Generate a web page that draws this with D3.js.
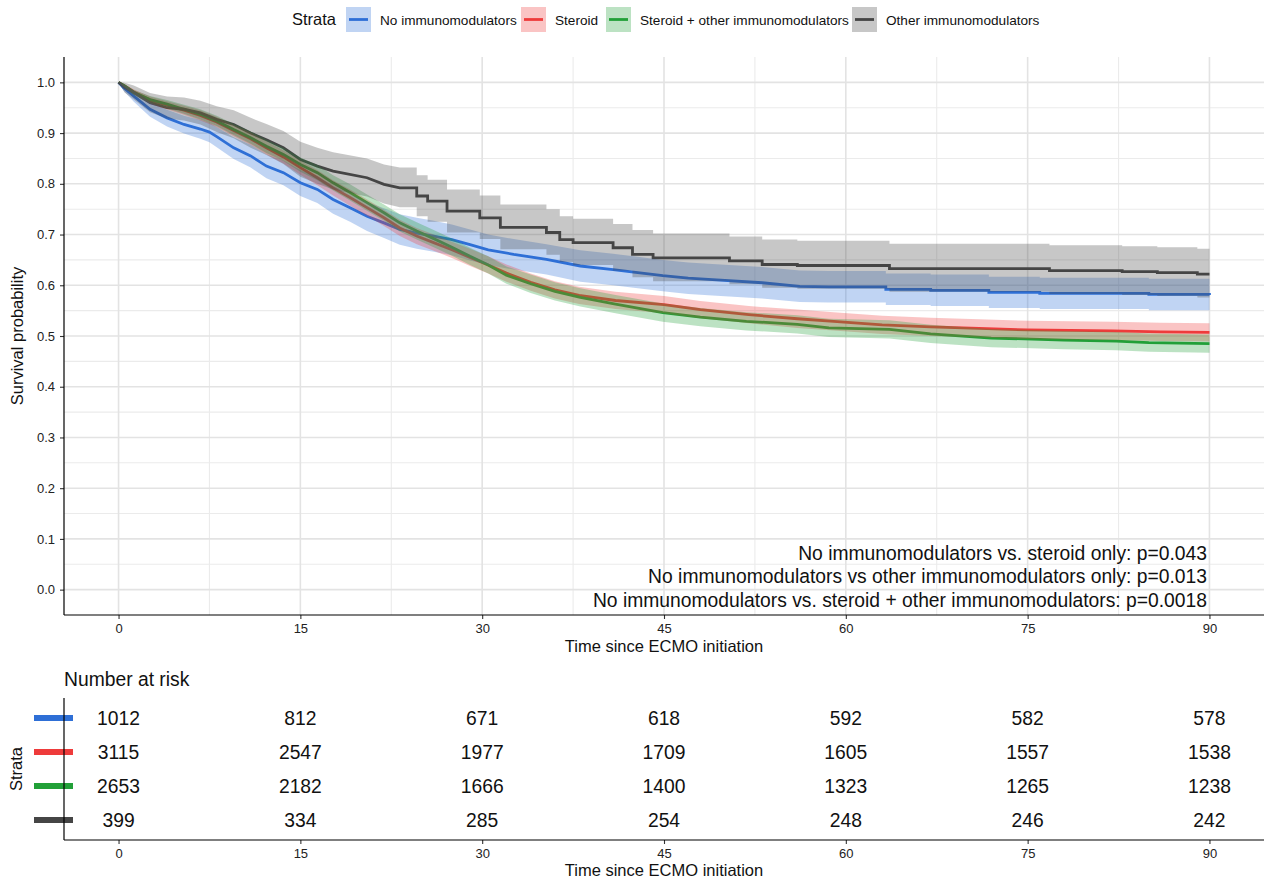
<!DOCTYPE html>
<html><head><meta charset="utf-8">
<script src="https://cdn.jsdelivr.net/npm/d3@7"></script>
<style>
html,body{margin:0;padding:0;background:#fff;}
svg{display:block;font-family:"Liberation Sans",Arial,Helvetica,sans-serif;}
</style></head>
<body>
<svg id="chart" width="1264" height="880"></svg>
<script>
// ---------------- data ----------------
const strata = ["No immunomodulators", "Steroid", "Steroid + other immunomodulators", "Other immunomodulators"];
const colors = ["#2E6FD6", "#EE3B3B", "#22A038", "#454545"];

const noneT  = [0,0.4,1.26,2.6,4.0,5.4,6.75,7.5,8.1,9.5,10.9,12.2,13.6,15,16.4,17.7,19.1,20.5,21.9,23.2,24.6,26,27.5,29,30.5,32.6,35.3,38.1,40.8,42.5,44.9,47,49,53.1,56.2,58.6,63.3,67,71.8,76,80,85,90];
const noneS  = [1,0.99,0.973,0.947,0.930,0.917,0.908,0.902,0.893,0.871,0.855,0.835,0.822,0.802,0.789,0.769,0.753,0.736,0.723,0.710,0.703,0.697,0.690,0.680,0.670,0.661,0.651,0.638,0.631,0.626,0.619,0.614,0.611,0.605,0.598,0.597,0.592,0.590,0.586,0.584,0.584,0.582,0.581];
const noneLo = [1,0.984,0.962,0.932,0.913,0.899,0.889,0.882,0.872,0.849,0.832,0.811,0.797,0.776,0.762,0.741,0.725,0.707,0.693,0.680,0.672,0.666,0.659,0.649,0.640,0.631,0.621,0.607,0.600,0.595,0.588,0.583,0.580,0.574,0.567,0.566,0.561,0.559,0.555,0.553,0.553,0.551,0.550];
const noneHi = [1,0.996,0.983,0.961,0.946,0.934,0.926,0.920,0.912,0.892,0.877,0.858,0.846,0.827,0.815,0.796,0.780,0.764,0.752,0.740,0.733,0.727,0.720,0.710,0.700,0.691,0.681,0.669,0.662,0.657,0.650,0.645,0.642,0.636,0.629,0.628,0.623,0.621,0.617,0.615,0.615,0.613,0.612];

const sterT  = [0,0.5,1.26,2.6,4,5.4,6.75,8.1,9.5,10.9,12.2,13.6,15,16.4,17.7,19.1,20.5,21.9,23.2,24.6,26,27.5,29,30.5,32,34,36,38,41,45,48,52,56,59,63,67,71,75,82,86,90];
const sterS  = [1,0.993,0.981,0.965,0.955,0.945,0.935,0.922,0.905,0.889,0.871,0.853,0.832,0.812,0.792,0.773,0.753,0.733,0.713,0.697,0.684,0.670,0.655,0.640,0.624,0.606,0.591,0.580,0.570,0.562,0.552,0.542,0.534,0.529,0.522,0.518,0.515,0.512,0.510,0.508,0.507];
const sterLo = [1,0.990,0.976,0.958,0.947,0.936,0.925,0.912,0.894,0.877,0.858,0.840,0.818,0.797,0.777,0.757,0.737,0.717,0.697,0.681,0.668,0.654,0.638,0.623,0.607,0.589,0.574,0.563,0.553,0.545,0.535,0.525,0.516,0.511,0.504,0.500,0.497,0.494,0.492,0.490,0.489];
const sterHi = [1,0.996,0.986,0.972,0.963,0.954,0.945,0.932,0.916,0.901,0.884,0.866,0.846,0.827,0.807,0.789,0.769,0.749,0.729,0.713,0.700,0.686,0.672,0.657,0.641,0.623,0.608,0.597,0.587,0.579,0.569,0.559,0.552,0.547,0.540,0.536,0.533,0.530,0.528,0.526,0.525];

const bothT  = [0,0.5,1.26,2.6,4,5.4,6.75,8.1,9.5,10.9,12.2,13.6,15,16.4,17.7,19.1,20.5,21.9,23.2,24.6,26,27.5,29,30.5,32,34,36,38.1,41,44.9,48,51.8,56,58.6,63.6,67,72,78,82.3,85,90];
const bothS  = [1,0.993,0.980,0.966,0.957,0.947,0.937,0.924,0.907,0.891,0.874,0.858,0.838,0.822,0.802,0.783,0.763,0.743,0.723,0.707,0.692,0.675,0.657,0.640,0.620,0.603,0.588,0.576,0.563,0.546,0.537,0.529,0.523,0.516,0.513,0.504,0.496,0.492,0.490,0.487,0.485];
const bothLo = [1,0.990,0.975,0.959,0.949,0.938,0.927,0.914,0.896,0.879,0.861,0.845,0.824,0.807,0.787,0.767,0.747,0.727,0.706,0.690,0.675,0.658,0.640,0.623,0.603,0.585,0.570,0.558,0.545,0.528,0.519,0.511,0.505,0.498,0.495,0.486,0.478,0.474,0.472,0.469,0.467];
const bothHi = [1,0.996,0.985,0.973,0.965,0.956,0.947,0.934,0.918,0.903,0.887,0.871,0.852,0.837,0.817,0.799,0.779,0.759,0.740,0.724,0.709,0.692,0.674,0.657,0.637,0.621,0.606,0.594,0.581,0.564,0.555,0.547,0.541,0.534,0.531,0.522,0.514,0.510,0.508,0.505,0.503];

const otherT  = [0,0.5,1.26,2.6,4,5.4,6.75,8.1,9.5,10.9,12.2,13.6,15,16.4,17.7,20.5,21.9,23.2,24.6,25.5,27.1,29.8,31.5,35.3,36.4,37.5,40.8,42.4,44.1,47.9,50.4,53.1,56,63.6,76.8,82.8,85.7,89,90];
const otherS  = [1,0.99,0.980,0.960,0.950,0.947,0.940,0.927,0.917,0.900,0.887,0.871,0.848,0.835,0.825,0.812,0.799,0.792,0.776,0.766,0.746,0.733,0.714,0.704,0.690,0.684,0.674,0.661,0.654,0.654,0.648,0.641,0.639,0.633,0.629,0.627,0.625,0.622,0.622];
const otherLo = [1,0.980,0.966,0.941,0.929,0.925,0.917,0.902,0.890,0.871,0.857,0.839,0.814,0.800,0.789,0.775,0.761,0.754,0.736,0.725,0.704,0.691,0.671,0.660,0.646,0.640,0.629,0.616,0.608,0.608,0.602,0.595,0.593,0.587,0.583,0.581,0.579,0.576,0.576];
const otherHi = [1,0.999,0.994,0.979,0.972,0.970,0.964,0.953,0.945,0.930,0.918,0.904,0.883,0.871,0.862,0.850,0.838,0.832,0.817,0.808,0.789,0.777,0.759,0.750,0.736,0.731,0.721,0.709,0.702,0.702,0.696,0.690,0.688,0.682,0.679,0.677,0.675,0.672,0.672];

const xTicks = [0, 15, 30, 45, 60, 75, 90];
const yTicks = [0.0, 0.1, 0.2, 0.3, 0.4, 0.5, 0.6, 0.7, 0.8, 0.9, 1.0];
const riskNone  = [1012, 812, 671, 618, 592, 582, 578];
const riskSter  = [3115, 2547, 1977, 1709, 1605, 1557, 1538];
const riskBoth  = [2653, 2182, 1666, 1400, 1323, 1265, 1238];
const riskOther = [399, 334, 285, 254, 248, 246, 242];
const pvalTexts = [
  "No immunomodulators vs. steroid only: p=0.043",
  "No immunomodulators vs other immunomodulators only: p=0.013",
  "No immunomodulators vs. steroid + other immunomodulators: p=0.0018"
];

// ---------------- build ----------------
// dense tiny steps are approximated by straight segments; larger steps drawn as steps
const linearUntil = [60, 90, 90, 24];
const series = [
  {t: noneT, s: noneS, lo: noneLo, hi: noneHi},
  {t: sterT, s: sterS, lo: sterLo, hi: sterHi},
  {t: bothT, s: bothS, lo: bothLo, hi: bothHi},
  {t: otherT, s: otherS, lo: otherLo, hi: otherHi}
].map((d, i) => {
  const pts = d.t.map((t, j) => ({t, s: d.s[j], lo: d.lo[j], hi: d.hi[j]}));
  const path = [];
  pts.forEach((p, j) => {
    if (j > 0 && p.t > linearUntil[i]) {
      const q = pts[j - 1];
      path.push({t: p.t, s: q.s, lo: q.lo, hi: q.hi});
    }
    path.push(p);
  });
  return {name: strata[i], color: colors[i], path};
});
const risk = [riskNone, riskSter, riskBoth, riskOther];

const svg = d3.select("#chart");
const L = 64, R = 1264, T = 57, B = 615;
const x = d3.scaleLinear().domain([-4.5, 94.5]).range([L, R]);
const y = d3.scaleLinear().domain([-0.05, 1.05]).range([B, T]);

// grid
const grid = svg.append("g");
const minorX = d3.range(7.5, 90, 15);
const minorY = d3.range(0.05, 1.0, 0.1);
grid.selectAll(".mx").data(minorX).join("line")
  .attr("x1", d => x(d)).attr("x2", d => x(d)).attr("y1", T).attr("y2", B)
  .attr("stroke", "#EBEBEB").attr("stroke-width", 1.1);
grid.selectAll(".my").data(minorY).join("line")
  .attr("y1", d => y(d)).attr("y2", d => y(d)).attr("x1", L).attr("x2", R)
  .attr("stroke", "#EBEBEB").attr("stroke-width", 1.1);
grid.selectAll(".Mx").data(xTicks).join("line")
  .attr("x1", d => x(d)).attr("x2", d => x(d)).attr("y1", T).attr("y2", B)
  .attr("stroke", "#E3E3E3").attr("stroke-width", 1.6);
grid.selectAll(".My").data(yTicks).join("line")
  .attr("y1", d => y(d)).attr("y2", d => y(d)).attr("x1", L).attr("x2", R)
  .attr("stroke", "#E3E3E3").attr("stroke-width", 1.6);

// lines first, ribbons on top (as in ggsurvplot)
const line = d3.line().x(d => x(d.t)).y(d => y(d.s));
const area = d3.area().x(d => x(d.t)).y0(d => y(d.lo)).y1(d => y(d.hi));
const plot = svg.append("g");
series.forEach(sr => {
  plot.append("path").datum(sr.path).attr("d", line)
    .attr("fill", "none").attr("stroke", sr.color).attr("stroke-width", 2.8)
    .attr("stroke-linejoin", "miter");
});
series.forEach(sr => {
  plot.append("path").datum(sr.path).attr("d", area)
    .attr("fill", sr.color).attr("fill-opacity", 0.3).attr("stroke", "none");
});

// axes
const axX = d3.axisBottom(x).tickValues(xTicks).tickSize(4).tickPadding(5).tickFormat(d3.format("d"));
const gx = svg.append("g").attr("transform", `translate(0,${B})`).call(axX);
const axY = d3.axisLeft(y).tickValues(yTicks).tickSize(4).tickPadding(5).tickFormat(d3.format(".1f"));
const gy = svg.append("g").attr("transform", `translate(${L},0)`).call(axY);
[gx, gy].forEach(g => {
  g.select(".domain").remove();
  g.selectAll(".tick line").attr("stroke", "#333").attr("stroke-width", 1.1);
  g.selectAll(".tick text").attr("fill", "#222").style("font-size", "13px")
    .style("font-family", "'Liberation Sans',Arial,sans-serif");
});
svg.append("line").attr("x1", L).attr("x2", R).attr("y1", B).attr("y2", B).attr("stroke", "#000").attr("stroke-width", 1.2);
svg.append("line").attr("x1", L).attr("x2", L).attr("y1", T).attr("y2", B).attr("stroke", "#000").attr("stroke-width", 1.2);

svg.append("text").attr("x", (L + R) / 2).attr("y", 652).attr("text-anchor", "middle")
  .style("font-size", "16.5px").attr("fill", "#111").text("Time since ECMO initiation");
svg.append("text").attr("transform", `translate(23,${(T + B) / 2}) rotate(-90)`).attr("text-anchor", "middle")
  .style("font-size", "16.5px").attr("fill", "#111").text("Survival probability");

// p-values
svg.selectAll(".pv").data(pvalTexts).join("text")
  .attr("x", 1207).attr("y", (d, i) => 559.5 + i * 23.5).attr("text-anchor", "end")
  .style("font-size", "19.3px").attr("fill", "#111").text(d => d);

// legend
const lg = svg.append("g");
lg.append("text").attr("x", 292).attr("y", 25).style("font-size", "16.5px").attr("fill", "#111").text("Strata");
const legX = [346, 521, 606, 852];
strata.forEach((s, i) => {
  const g = lg.append("g").attr("transform", `translate(${legX[i]},7)`);
  g.append("rect").attr("width", 25).attr("height", 25).attr("fill", colors[i]).attr("fill-opacity", 0.3);
  g.append("line").attr("x1", 3).attr("x2", 22).attr("y1", 12.5).attr("y2", 12.5)
    .attr("stroke", colors[i]).attr("stroke-width", 2.8);
  g.append("text").attr("x", 34).attr("y", 17.5).style("font-size", "13.6px").attr("fill", "#111").text(s);
});

// risk table
const rowY = d3.scalePoint().domain(strata).range([718, 820]);
const RT = 698, RB = 840;
svg.append("text").attr("x", 64).attr("y", 686).style("font-size", "19.3px").attr("fill", "#111").text("Number at risk");
strata.forEach((s, i) => {
  svg.append("line").attr("x1", 34).attr("x2", 73).attr("y1", rowY(s)).attr("y2", rowY(s))
    .attr("stroke", colors[i]).attr("stroke-width", 6);
  svg.selectAll(null).data(risk[i]).join("text")
    .attr("x", (d, j) => x(xTicks[j])).attr("y", rowY(s) + 7).attr("text-anchor", "middle")
    .style("font-size", "19.3px").attr("fill", "#111").text(d => d);
});
const gx2 = svg.append("g").attr("transform", `translate(0,${RB})`).call(axX);
gx2.select(".domain").remove();
gx2.selectAll(".tick line").attr("stroke", "#333").attr("stroke-width", 1.1);
gx2.selectAll(".tick text").attr("fill", "#222").style("font-size", "13px");
svg.append("line").attr("x1", L).attr("x2", R).attr("y1", RB).attr("y2", RB).attr("stroke", "#000").attr("stroke-width", 1.2);
svg.append("line").attr("x1", L).attr("x2", L).attr("y1", RT).attr("y2", RB).attr("stroke", "#000").attr("stroke-width", 1.2);
svg.append("text").attr("x", (L + R) / 2).attr("y", 876).attr("text-anchor", "middle")
  .style("font-size", "16.5px").attr("fill", "#111").text("Time since ECMO initiation");
svg.append("text").attr("transform", `translate(22,${(RT + RB) / 2}) rotate(-90)`).attr("text-anchor", "middle")
  .style("font-size", "16.5px").attr("fill", "#111").text("Strata");
</script>
</body></html>
